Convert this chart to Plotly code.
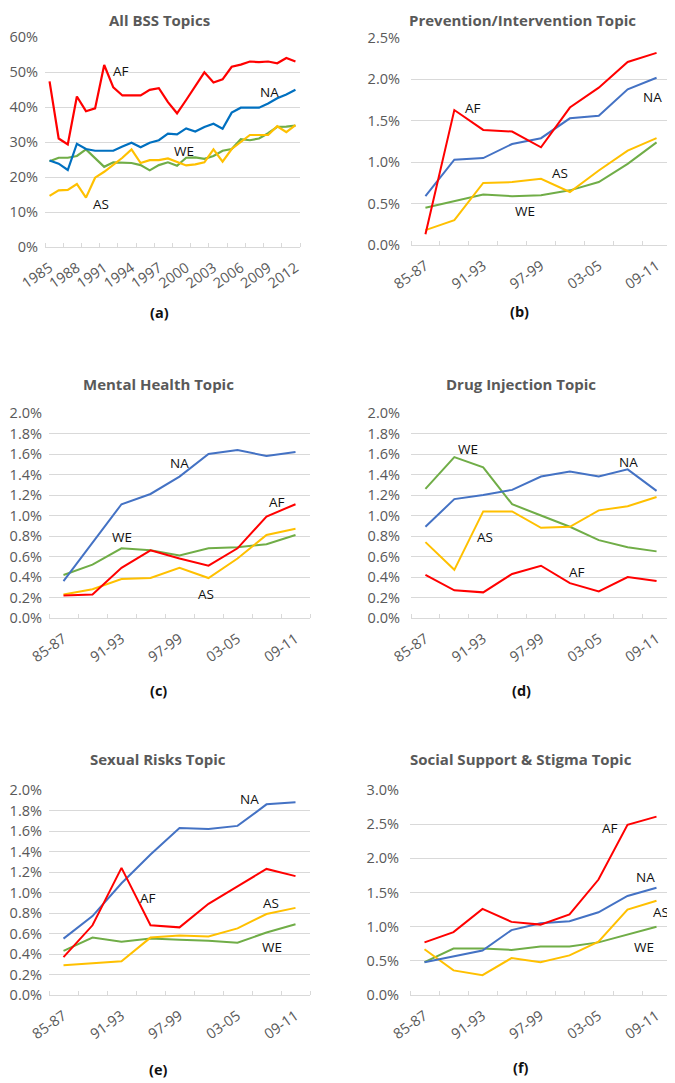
import plotly.graph_objects as go

# ---------------- data ----------------
years = list(range(1985, 2013))
periods = ["85-87", "88-90", "91-93", "94-96", "97-99", "00-02", "03-05", "06-08", "09-11"]
regions = ["AF", "NA", "WE", "AS"]

# (a) All BSS Topics, percent
a_AF = [47.3, 31.0, 29.3, 43.0, 38.8, 39.6, 52.0, 45.6, 43.3, 43.3, 43.3, 44.9, 45.4, 41.4, 38.2,
        42.0, 46.0, 49.9, 47.0, 47.9, 51.5, 52.1, 53.0, 52.8, 53.0, 52.5, 54.0, 53.0]
a_NA = [24.7, 23.8, 22.0, 29.5, 28.0, 27.5, 27.5, 27.5, 28.7, 29.8, 28.5, 29.8, 30.5, 32.4, 32.2,
        33.9, 33.0, 34.3, 35.2, 33.8, 38.4, 39.8, 39.8, 39.8, 41.0, 42.5, 43.6, 44.9]
a_WE = [24.5, 25.5, 25.5, 26.0, 27.9, 25.5, 22.9, 24.2, 24.2, 24.0, 23.4, 21.9, 23.4, 24.2, 23.2,
        25.5, 25.6, 25.2, 26.0, 27.5, 28.0, 30.8, 30.5, 31.0, 32.5, 34.3, 34.4, 34.7]
a_AS = [14.6, 16.2, 16.3, 18.0, 14.1, 19.8, 21.5, 23.5, 25.5, 27.9, 24.0, 24.8, 24.8, 25.3, 24.3,
        23.3, 23.6, 24.2, 27.9, 24.4, 28.0, 30.0, 32.0, 32.0, 32.0, 34.5, 32.8, 34.8]

# (b) Prevention/Intervention Topic, percent
b_AF = [0.13, 1.63, 1.39, 1.37, 1.18, 1.66, 1.90, 2.21, 2.32]
b_NA = [0.59, 1.03, 1.05, 1.22, 1.29, 1.53, 1.56, 1.88, 2.02]
b_WE = [0.45, 0.53, 0.61, 0.59, 0.60, 0.66, 0.76, 0.98, 1.24]
b_AS = [0.18, 0.30, 0.75, 0.76, 0.80, 0.64, 0.90, 1.14, 1.29]

# (c) Mental Health Topic, percent
c_AF = [0.22, 0.23, 0.49, 0.66, 0.58, 0.51, 0.68, 0.99, 1.11]
c_NA = [0.36, 0.74, 1.11, 1.21, 1.38, 1.60, 1.64, 1.58, 1.62]
c_WE = [0.42, 0.52, 0.68, 0.66, 0.61, 0.68, 0.69, 0.72, 0.81]
c_AS = [0.23, 0.28, 0.38, 0.39, 0.49, 0.39, 0.58, 0.81, 0.87]

# (d) Drug Injection Topic, percent
d_AF = [0.42, 0.27, 0.25, 0.43, 0.51, 0.34, 0.26, 0.40, 0.36]
d_NA = [0.89, 1.16, 1.20, 1.25, 1.38, 1.43, 1.38, 1.45, 1.24]
d_WE = [1.26, 1.57, 1.47, 1.11, 1.00, 0.89, 0.76, 0.69, 0.65]
d_AS = [0.74, 0.47, 1.04, 1.04, 0.88, 0.89, 1.05, 1.09, 1.18]

# (e) Sexual Risks Topic, percent
e_AF = [0.37, 0.68, 1.24, 0.68, 0.66, 0.89, 1.06, 1.23, 1.16]
e_NA = [0.55, 0.77, 1.09, 1.37, 1.63, 1.62, 1.65, 1.86, 1.88]
e_WE = [0.43, 0.56, 0.52, 0.55, 0.54, 0.53, 0.51, 0.61, 0.69]
e_AS = [0.29, 0.31, 0.33, 0.56, 0.58, 0.57, 0.65, 0.79, 0.85]

# (f) Social Support & Stigma Topic, percent
f_AF = [0.77, 0.92, 1.26, 1.07, 1.03, 1.18, 1.69, 2.49, 2.61]
f_NA = [0.48, 0.57, 0.65, 0.95, 1.05, 1.08, 1.21, 1.45, 1.57]
f_WE = [0.48, 0.68, 0.68, 0.66, 0.71, 0.71, 0.77, 0.89, 1.00]
f_AS = [0.67, 0.36, 0.29, 0.54, 0.48, 0.58, 0.78, 1.25, 1.38]

titles = ["All BSS Topics", "Prevention/Intervention Topic", "Mental Health Topic",
          "Drug Injection Topic", "Sexual Risks Topic", "Social Support & Stigma Topic"]
panel_tags = ["(a)", "(b)", "(c)", "(d)", "(e)", "(f)"]
year_ticks = list(range(1985, 2013, 3))

# ---------------- styling ----------------
OFF = 8                      # page body margin offset
W, H = 675 - OFF, 1083 - OFF
FONT = "Open Sans"
GRID = "#d9d9d9"
TXT = "#595959"
TICK_SIZE = 14.5
colors_a = {"AF": "#ff0000", "NA": "#0070c0", "WE": "#70ad47", "AS": "#ffc000"}
colors = {"AF": "#ff0000", "NA": "#4472c4", "WE": "#70ad47", "AS": "#ffc000"}

def px_x(p):
    return (p - OFF) / W

def px_y(p):
    return 1 - (p - OFF) / H

# plot area pixel boxes (window pixels): (left, right, top, bottom)
boxes = [(45, 300, 37, 247), (411, 671, 38, 245), (49, 310, 413, 618),
         (411, 671, 413, 618), (49, 310, 790, 995), (410, 671, 790, 995)]
yranges = [0.6, 0.025, 0.02, 0.02, 0.02, 0.03]
ydticks = [0.1, 0.005, 0.002, 0.002, 0.002, 0.005]
yformats = [".0%", ".1%", ".1%", ".1%", ".1%", ".1%"]
ystandoff = [6, 10, 6, 10, 6, 10]
# title: (x centre, y, y-anchor)
title_pos = [(159, OFF, "top"), (522, OFF, "top"), (158, 384, "middle"),
             (521, 384, "middle"), (158, 759, "middle"), (521, 759, "middle")]
tag_pos = [(159, 313), (519, 311), (158, 690), (521, 690), (158, 1069), (521, 1067)]

panel_data = [
    (years, {"AF": a_AF, "NA": a_NA, "WE": a_WE, "AS": a_AS}),
    (periods, {"AF": b_AF, "NA": b_NA, "WE": b_WE, "AS": b_AS}),
    (periods, {"AF": c_AF, "NA": c_NA, "WE": c_WE, "AS": c_AS}),
    (periods, {"AF": d_AF, "NA": d_NA, "WE": d_WE, "AS": d_AS}),
    (periods, {"AF": e_AF, "NA": e_NA, "WE": e_WE, "AS": e_AS}),
    (periods, {"AF": f_AF, "NA": f_NA, "WE": f_WE, "AS": f_AS}),
]

# series label positions (x index / year, y percent, x anchor)
label_pos = [
    {"AF": (1992.8, 50.4, "center"), "NA": (2009.2, 44.4, "center"),
     "WE": (1999.8, 27.5, "center"), "AS": (1990.6, 12.4, "center")},
    {"AF": (1.63, 1.66, "center"), "NA": (7.86, 1.79, "center"),
     "WE": (3.44, 0.41, "center"), "AS": (4.67, 0.87, "center")},
    {"AF": (7.37, 1.13, "center"), "NA": (4.01, 1.51, "center"),
     "WE": (2.0, 0.79, "center"), "AS": (4.91, 0.23, "center")},
    {"AF": (5.24, 0.45, "center"), "NA": (7.02, 1.52, "center"),
     "WE": (1.49, 1.65, "center"), "AS": (2.07, 0.79, "center")},
    {"AF": (2.92, 0.95, "center"), "NA": (6.4, 1.91, "center"),
     "WE": (7.18, 0.465, "center"), "AS": (7.15, 0.894, "center")},
    {"AF": (6.38, 2.44, "center"), "NA": (7.61, 1.73, "center"),
     "WE": (7.57, 0.707, "center"), "AS": (8.49, 1.21, "right")},
]

fig = go.Figure()
annotations = []
layout = dict(
    width=W, height=H, margin=dict(l=0, r=0, t=0, b=0, pad=0),
    paper_bgcolor="white", plot_bgcolor="white", showlegend=False,
    font=dict(family=FONT, size=13, color=TXT),
)

for i in range(6):
    n = "" if i == 0 else str(i + 1)
    xs, series = panel_data[i]
    if i == 0:
        xvals = xs
        cmap = colors_a
        lw = 2.2
    else:
        xvals = list(range(len(xs)))
        cmap = colors
        lw = 2
    for r in ["WE", "AS", "NA", "AF"]:
        fig.add_trace(go.Scatter(
            x=xvals, y=[v / 100 for v in series[r]], mode="lines",
            line=dict(color=cmap[r], width=lw), name=r,
            xaxis="x" + n, yaxis="y" + n, hoverinfo="x+y+name"))
    for r in regions:
        lx, ly, anc = label_pos[i][r]
        annotations.append(dict(
            x=lx, y=ly / 100, xref="x" + n, yref="y" + n, text=r, showarrow=False,
            font=dict(family=FONT, size=13.5, color="#111111"), xanchor=anc, yanchor="middle"))

    L, R, T, B = boxes[i]
    if i == 0:
        xaxis = dict(
            range=[1984.5, 2012.5], tickmode="array", tickvals=year_ticks,
            ticktext=[str(y) for y in year_ticks],
            minor=dict(tickmode="linear", tick0=1984.5, dtick=2, ticks="inside",
                       ticklen=4, tickcolor=GRID, showgrid=False),
        )
    else:
        xaxis = dict(
            range=[-0.5, len(xs) - 0.5], tickmode="array",
            tickvals=list(range(0, len(xs), 2)), ticktext=xs[::2],
            minor=dict(tickmode="linear", tick0=-0.5, dtick=1, ticks="inside",
                       ticklen=4, tickcolor=GRID, showgrid=False),
        )
    xaxis.update(
        domain=[px_x(L), px_x(R)], anchor="y" + n, showgrid=False, zeroline=False,
        showline=True, linecolor=GRID, linewidth=1, ticks="", tickangle=-35,
        ticklabelstandoff=6, automargin=False,
        tickfont=dict(family=FONT, size=TICK_SIZE, color=TXT), fixedrange=True,
    )
    yaxis = dict(
        domain=[px_y(B), px_y(T)], anchor="x" + n, range=[0, yranges[i]],
        tickmode="linear", tick0=0, dtick=ydticks[i], tickformat=yformats[i],
        showgrid=True, gridcolor=GRID, gridwidth=1, zeroline=False, showline=False,
        ticks="", ticklabelstandoff=ystandoff[i], automargin=False,
        tickfont=dict(family=FONT, size=TICK_SIZE, color=TXT), fixedrange=True,
    )
    layout["xaxis" + n] = xaxis
    layout["yaxis" + n] = yaxis

    tx, ty, tanc = title_pos[i]
    annotations.append(dict(
        x=px_x(tx), y=px_y(ty), xref="paper", yref="paper", text="<b>%s</b>" % titles[i],
        showarrow=False, xanchor="center", yanchor=tanc,
        font=dict(family=FONT, size=15, color=TXT)))
    gx, gy = tag_pos[i]
    annotations.append(dict(
        x=px_x(gx), y=px_y(gy), xref="paper", yref="paper", text="<b>%s</b>" % panel_tags[i],
        showarrow=False, xanchor="center", yanchor="middle",
        font=dict(family=FONT, size=14.5, color="#111111")))

layout["annotations"] = annotations
fig.update_layout(**layout)
fig.write_html("out.html")
